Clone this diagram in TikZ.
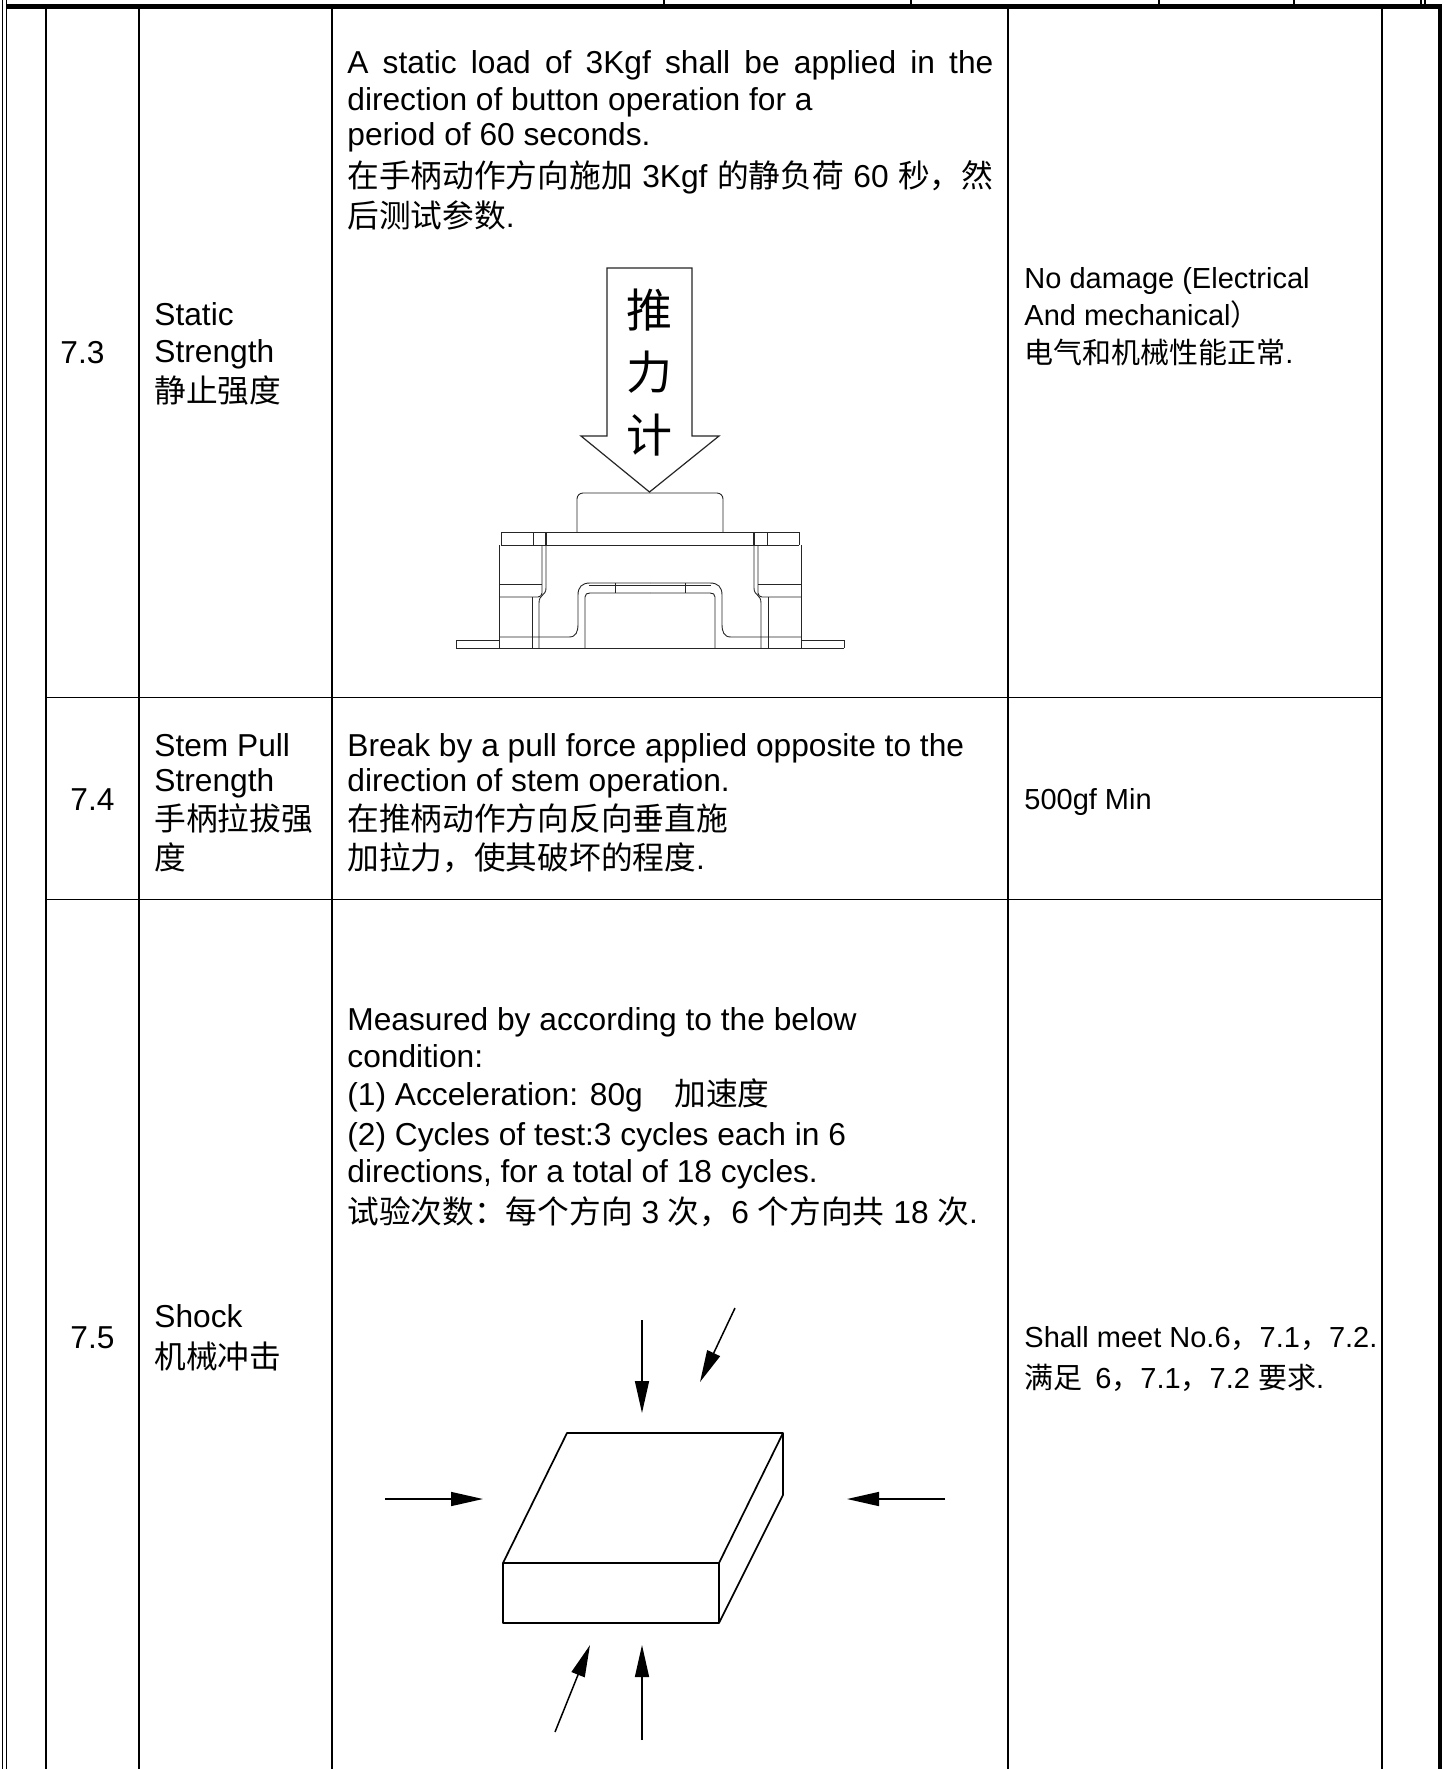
\documentclass[tikz,border=0pt]{standalone}
\usepackage{fontspec}
\setmainfont{Liberation Sans}
\newfontfamily\cjk{Noto Sans CJK SC}
\usetikzlibrary{arrows.meta}
\newcommand\mainsz{\fontsize{15.85pt}{18pt}\selectfont}
\newcommand\foursz{\fontsize{14.5pt}{18pt}\selectfont}
\newcommand\swhalf{%
  \draw[swline,rounded corners=3pt] (-73,532) -- (-73,493) -- (0,493);
  \draw[swline] (-149,532) -- (0,532);
  \draw[swline] (-149,545) -- (0,545);
  \draw[swline] (-149,532) -- (-149,545);
  \draw[swline] (-117,532) -- (-117,545);
  \draw[swline,line width=0.8pt] (-104,532) -- (-104,545);
  \draw[swline] (-151,545) -- (-151,648);
  \draw[swline,rounded corners=2pt] (-108,545) -- (-108,597) -- (-151,597);
  \draw[swline] (-151,584) -- (-108,584);
  \draw[swline] (-104,545) -- (-104,588) .. controls (-104,596) and (-111,594) .. (-111,603) -- (-111,648);
  \draw[swline] (-118,597) -- (-118,648);
  \draw[swline] (-151,637) -- (-81,637) .. controls (-74,637) and (-72,632) .. (-72,624) -- (-72,595) .. controls (-72,587) and (-68,583) .. (-60,583) -- (0,583);
  \draw[swline] (-61,585.5) -- (0,585.5);
  \draw[swline] (-65,648) -- (-65,597) .. controls (-65,594) and (-63,593) .. (-60,593) -- (0,593);
  \draw[swline] (-35,583) -- (-35,593);
  \draw[swline] (-194,648) -- (0,648);
  \draw[swline] (-194,640) -- (-151,640);
  \draw[swline] (-194,640) -- (-194,648);
}
\begin{document}
\begin{tikzpicture}[x=0.5pt,y=-0.5pt,
  txt/.style={anchor=base west,inner sep=0pt,font=\mainsz},
  txtc/.style={anchor=base,inner sep=0pt,font=\mainsz},
  txtf/.style={anchor=base west,inner sep=0pt,font=\foursz},
  tline/.style={line width=0.9pt},
  swline/.style={line width=0.45pt,black!85},
  boxline/.style={line width=0.85pt},
  shockarr/.style={line width=0.75pt,-{Triangle[length=16pt,width=7pt]}}]
\useasboundingbox[fill=white] (0,0) rectangle (1445,1769);
% ---------- table frame ----------
\draw[line width=0.65pt] (2.7,0) -- (2.7,1769);
\draw[line width=0.65pt] (6.7,0) -- (6.7,1769);
\draw[line width=2.5pt] (7,6.5) -- (1442,6.5);
\draw[line width=2pt] (1440,4) -- (1440,1769);
\foreach \tx in {664,911,1159,1294,1421,1425}
  \draw[line width=0.7pt] (\tx,0) -- (\tx,5);
\foreach \cx in {46,139,332,1008,1382}
  \draw[tline] (\cx,9) -- (\cx,1769);
\draw[tline] (46,697.5) -- (1382,697.5);
\draw[tline] (46,899.5) -- (1382,899.5);
% ---------- row 7.3 ----------
\node[txt] (n73) at (60,363) {7.3};
\node[txt] (a73a) at (154,325) {Static};
\node[txt] (a73b) at (154,362) {Strength};
\node[txt] (a73c) at (154,402) {\cjk 静止强度};
\node[txt] (b73a) at (347,73) {\makebox[323pt][s]{A static load of 3Kgf shall be applied in the}};
\node[txt] (b73b) at (347,110) {direction of button operation for a};
\node[txt] (b73c) at (347,145) {period of 60 seconds.};
\node[txt] (b73d) at (347,187) {\makebox[323pt][s]{{\cjk 在手柄动作方向施加} 3Kgf {\cjk 的静负荷} 60 {\cjk 秒，然}}};
\node[txt] (b73e) at (347,227) {{\cjk 后测试参数}.};
\node[txtf] (c73a) at (1024,288) {No damage (Electrical};
\node[txtf] (c73b) at (1024,325) {And mechanical{\cjk ）}};
\node[txtf] (c73c) at (1024,363) {{\cjk 电气和机械性能正常}.};
% push-force arrow
\draw[swline,line width=0.6pt] (607,268) -- (692,268) -- (692,436) -- (719,436) -- (649.5,492) -- (581,436) -- (607,436) -- cycle;
\node[inner sep=0pt,font=\fontsize{23pt}{23pt}\cjk] (p1) at (649.5,310) {推};
\node[inner sep=0pt,font=\fontsize{23pt}{23pt}\cjk] (p2) at (649.5,372) {力};
\node[inner sep=0pt,font=\fontsize{23pt}{23pt}\cjk] (p3) at (649.5,435) {计};
% switch drawing
\begin{scope}[shift={(650,0)}]
  \swhalf
\end{scope}
\begin{scope}[shift={(650,0)},xscale=-1]
  \swhalf
\end{scope}
% ---------- row 7.4 ----------
\node[txtc] (n74) at (92.5,810) {7.4};
\node[txt] (a74a) at (154,756) {Stem Pull};
\node[txt] (a74b) at (154,791) {Strength};
\node[txt] (a74c) at (154,830) {\cjk 手柄拉拔强};
\node[txt] (a74d) at (154,869) {\cjk 度};
\node[txt] (b74a) at (347,756) {Break by a pull force applied opposite to the};
\node[txt] (b74b) at (347,791) {direction of stem operation.};
\node[txt] (b74c) at (347,830) {\cjk 在推柄动作方向反向垂直施};
\node[txt] (b74d) at (347,869) {{\cjk 加拉力，使其破坏的程度}.};
\node[txtf] (c74a) at (1024,809) {500gf Min};
% ---------- row 7.5 ----------
\node[txtc] (n75) at (92.5,1348) {7.5};
\node[txt] (a75a) at (154,1327) {Shock};
\node[txt] (a75b) at (154,1368) {\cjk 机械冲击};
\node[txt] (b75a) at (347,1030) {Measured by according to the below};
\node[txt] (b75b) at (347,1067) {condition:};
\node[txt] (b75c) at (347,1105) {(1) Acceleration: 80g{\cjk 　加速度}};
\node[txt] (b75d) at (347,1145) {(2) Cycles of test:3 cycles each in 6};
\node[txt] (b75e) at (347,1182) {directions, for a total of 18 cycles.};
\node[txt] (b75f) at (347,1223) {{\cjk 试验次数：每个方向} 3 {\cjk 次，}6 {\cjk 个方向共} 18 {\cjk 次}.};
\node[txtf] (c75a) at (1024,1347) {Shall meet No.6{\cjk ，}7.1{\cjk ，}7.2.};
\node[txtf] (c75b) at (1024,1388) {{\cjk 满足} \,6{\cjk ，}7.1{\cjk ，}7.2 {\cjk 要求}.};
% shock figure
\coordinate (bx1) at (567,1433);
\coordinate (bx2) at (783,1433);
\coordinate (bx3) at (719,1563);
\coordinate (bx4) at (503,1563);
\coordinate (bx5) at (503,1623);
\coordinate (bx6) at (719,1623);
\coordinate (bx7) at (783,1495);
\draw[boxline,line join=round] (bx1) -- (bx2) -- (bx3) -- (bx4) -- cycle;
\draw[boxline,line join=round] (bx4) -- (bx5) -- (bx6) -- (bx3);
\draw[boxline,line join=round] (bx2) -- (bx7) -- (bx6);
\coordinate (t1s) at (642,1320); \coordinate (t1e) at (642,1413);
\coordinate (t2s) at (735,1308); \coordinate (t2e) at (700,1382);
\coordinate (l1s) at (385,1499); \coordinate (l1e) at (483,1499);
\coordinate (r1s) at (945,1499); \coordinate (r1e) at (847,1499);
\coordinate (b1s) at (642,1740); \coordinate (b1e) at (642,1645);
\coordinate (b2s) at (555,1732); \coordinate (b2e) at (590,1645);
\draw[shockarr] (t1s) -- (t1e);
\draw[shockarr] (t2s) -- (t2e);
\draw[shockarr] (l1s) -- (l1e);
\draw[shockarr] (r1s) -- (r1e);
\draw[shockarr] (b1s) -- (b1e);
\draw[shockarr] (b2s) -- (b2e);
\end{tikzpicture}
\end{document}
